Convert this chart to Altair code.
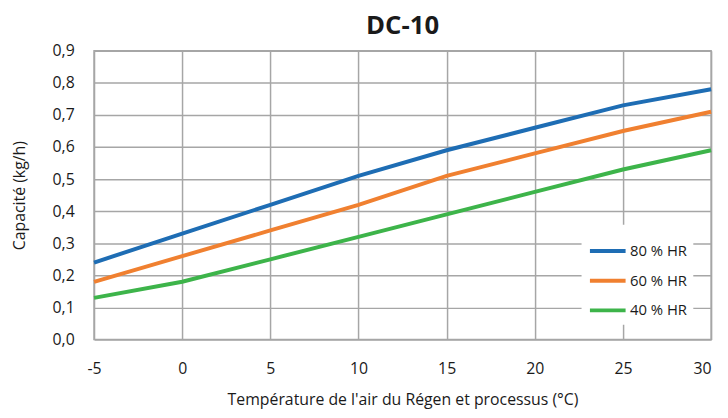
import altair as alt
import pandas as pd

temps = [-5, 0, 5, 10, 15, 20, 25, 30]
hr80 = [0.24, 0.33, 0.42, 0.51, 0.59, 0.66, 0.73, 0.78]
hr60 = [0.18, 0.26, 0.34, 0.42, 0.51, 0.58, 0.65, 0.71]
hr40 = [0.13, 0.18, 0.25, 0.32, 0.39, 0.46, 0.53, 0.59]
series = ["80 % HR", "60 % HR", "40 % HR"]
colors = ["#1e6db4", "#f08030", "#3db44a"]

rows = []
for name, vals in zip(series, [hr80, hr60, hr40]):
    for t, v in zip(temps, vals):
        rows.append({"t": t, "v": v, "s": name})
df = pd.DataFrame(rows)

FONT = "Open Sans"
GRID = "#a6a6a6"

chart = alt.Chart(df).mark_line(strokeWidth=4, interpolate="linear").encode(
    x=alt.X("t:Q", scale=alt.Scale(domain=[-5, 30], nice=False),
            axis=alt.Axis(values=temps, title="Température de l'air du Régen et processus (°C)",
                          labelExpr="'' + datum.value", tickSize=0, labelPadding=21,
                          labelFlush=False,
                          labelAlign=alt.expr("datum.value == 30 ? 'right' : 'center'"),
                          titlePadding=16, domain=False)),
    y=alt.Y("v:Q", scale=alt.Scale(domain=[0, 0.9], nice=False),
            axis=alt.Axis(values=[0, 0.1, 0.2, 0.3, 0.4, 0.5, 0.6, 0.7, 0.8, 0.9],
                          title="Capacité (kg/h)",
                          labelExpr="replace(format(datum.value, '.1f'), '.', ',')",
                          tickSize=0, labelPadding=20, titlePadding=25, domain=False)),
    color=alt.Color("s:N", scale=alt.Scale(domain=series, range=colors),
                    legend=alt.Legend(title=None, orient="none", legendX=493, legendY=176,
                                      symbolType="stroke", symbolSize=1300, symbolStrokeWidth=4,
                                      fillColor="white", padding=6, rowPadding=1,
                                      labelFontSize=15, labelFont=FONT, labelColor="#1a1a1a",
                                      labelOffset=2, symbolOffset=0)),
).properties(
    width=624, height=292,
    title=alt.TitleParams("DC-10", fontSize=26, fontWeight="bold", font=FONT, color="#1a1a1a",
                          anchor="middle", offset=4),
    autosize=alt.AutoSizeParams(type="none"),
    padding={"left": 87, "top": 41, "right": 9, "bottom": 69},
).configure_view(
    stroke=GRID, strokeWidth=1.5
).configure_axis(
    gridColor=GRID, gridWidth=1.5, gridOpacity=1,
    labelFont=FONT, titleFont=FONT, labelFontSize=16, titleFontSize=16,
    labelColor="#1a1a1a", titleColor="#1a1a1a", titleFontWeight="normal"
)

chart.save("out.html", embed_options={"renderer": "svg", "actions": False})
